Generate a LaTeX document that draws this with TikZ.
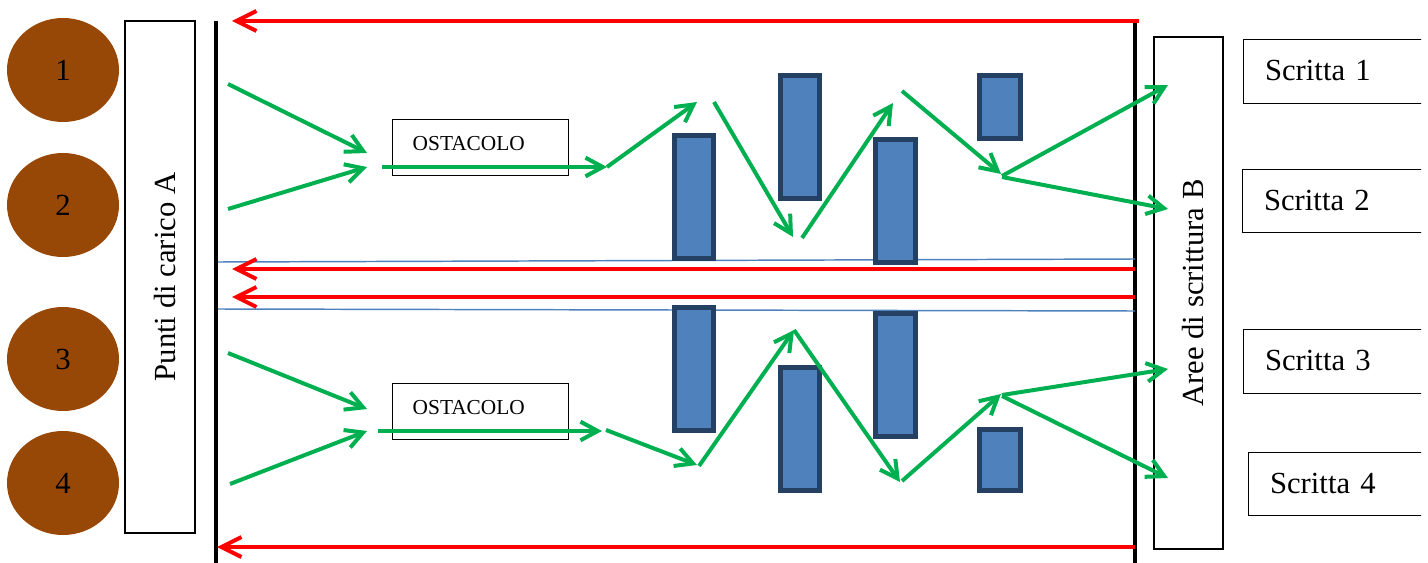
\documentclass[tikz,border=0pt]{standalone}
\usepackage{fontspec}
\setmainfont{Liberation Serif}
\usetikzlibrary{arrows.meta,shapes.geometric,fit}

\definecolor{ballbrown}{RGB}{151,72,7}
\definecolor{flowgreen}{RGB}{0,176,80}
\definecolor{barfill}{RGB}{79,129,189}
\definecolor{barline}{RGB}{36,64,98}
\definecolor{guideblue}{RGB}{79,129,189}

\tikzset{
  ball/.style={ellipse, fill=ballbrown, minimum width=84pt, minimum height=78pt,
    inner sep=0pt, font=\fontsize{23pt}{27pt}\selectfont},
  sidebox/.style={draw, line width=1.1pt, rotate=90, minimum width=384pt,
    inner sep=0pt, text depth=0pt, font=\fontsize{23pt}{27pt}\selectfont},
  labelbox/.style={draw, line width=1.1pt, anchor=north west, inner xsep=16pt,
    text width=110pt, align=left, text height=16pt, text depth=2.25pt,
    font=\fontsize{23pt}{27pt}\selectfont},
  obstacle/.style={draw, line width=1.1pt, anchor=north west, inner xsep=15pt,
    minimum height=42pt, text width=102pt, align=left, text height=10.5pt,
    text depth=6pt, font=\fontsize{16pt}{19pt}\selectfont},
  bar/.style={draw=barline, fill=barfill, line width=3.75pt, inner sep=0pt},
  wall/.style={line width=3pt, black},
  guide/.style={line width=1.1pt, guideblue},
  back/.style={line width=3pt, red, -{Straight Barb[length=15pt,width=15pt]}},
  flow/.style={line width=3pt, flowgreen, -{Straight Barb[length=13pt,width=14pt]}},
}

\begin{document}
\begin{tikzpicture}[x=0.75pt, y=-0.75pt]
\useasboundingbox (0,0) rectangle (1428,563);

% loading points
\node[ball] (c1) at (63,70) {1};
\node[ball] (c2) at (63,205) {2};
\node[ball] (c3) at (63,359) {3};
\node[ball] (c4) at (63,483) {4};

% side panels
\node[sidebox, minimum height=52.5pt, text height=22.5pt] (pa) at (160,277) {Punti di carico A};
\node[sidebox, minimum height=51.75pt, text height=21.75pt] (pb) at (1188.5,293) {Aree di scrittura B};

% output labels
\begin{scope}
  \clip (0,0) rectangle (1421,563);
  \node[labelbox, minimum height=48pt] (s1) at (1243,39) {Scritta 1};
  \node[labelbox, minimum height=47.25pt] (s2) at (1242,169) {Scritta 2};
  \node[labelbox, minimum height=48pt] (s3) at (1243,329) {Scritta 3};
  \node[labelbox, minimum height=47.25pt] (s4) at (1248,452) {Scritta 4};
\end{scope}

% walls
\coordinate (wl1) at (216,21);
\coordinate (wl2) at (216,563);
\coordinate (wr1) at (1135,21);
\coordinate (wr2) at (1135,563);
\draw[wall] (wl1) -- (wl2);
\draw[wall] (wr1) -- (wr2);

% lane separators
\coordinate (bl1) at (218,262); \coordinate (br1) at (1135,259);
\coordinate (bl2) at (218,309); \coordinate (br2) at (1135,311);
\draw[guide] (bl1) -- (br1);
\draw[guide] (bl2) -- (br2);

% obstacles
\node[obstacle] (ob1) at (392,119) {OSTACOLO};
\node[obstacle] (ob2) at (392,383) {OSTACOLO};

\node[bar, fit={(674.5,135.5) (713.5,258.5)}] (o1) {};
\node[bar, fit={(780.5,75.5) (819.5,198.5)}] (o2) {};
\node[bar, fit={(875.5,139.5) (915.5,262.5)}] (o3) {};
\node[bar, fit={(979.5,75.5) (1020.5,138.5)}] (o4) {};
\node[bar, fit={(674.5,307.5) (713.5,430.5)}] (o5) {};
\node[bar, fit={(780.5,367.5) (819.5,490.5)}] (o6) {};
\node[bar, fit={(875.5,313.5) (915.5,436.5)}] (o7) {};
\node[bar, fit={(979.5,429.5) (1020.5,490.5)}] (o8) {};

% return arrows
\coordinate (rt1) at (1139,21);  \coordinate (rt2) at (232,21);
\coordinate (ra1) at (1135,269); \coordinate (ra2) at (232,269);
\coordinate (rb1) at (1135,297); \coordinate (rb2) at (232,297);
\coordinate (rc1) at (1135,547); \coordinate (rc2) at (217,547);
\draw[back] (rt1) -- (rt2);
\draw[back] (ra1) -- (ra2);
\draw[back] (rb1) -- (rb2);
\draw[back] (rc1) -- (rc2);

% upper lane path
\coordinate (u1) at (228,84);   \coordinate (u1e) at (367,153);
\coordinate (u2) at (228,209);  \coordinate (u2e) at (367,167);
\coordinate (u3) at (382,167);  \coordinate (u3e) at (607,167);
\coordinate (u4) at (607,167);  \coordinate (u4e) at (697,102);
\coordinate (u5) at (714,102);  \coordinate (u5e) at (793,237);
\coordinate (u6) at (802,238);  \coordinate (u6e) at (893,103);
\coordinate (u7) at (902,91);   \coordinate (u7e) at (1001,174);
\coordinate (u8) at (1002,176); \coordinate (u8e) at (1168,85);
\coordinate (u9) at (1002,177); \coordinate (u9e) at (1168,209);
\foreach \k in {1,...,9} \draw[flow] (u\k) -- (u\k e);

% lower lane path
\coordinate (d1) at (228,353);  \coordinate (d1e) at (367,409);
\coordinate (d2) at (230,484);  \coordinate (d2e) at (367,431);
\coordinate (d3) at (378,431);  \coordinate (d3e) at (602,431);
\coordinate (d4) at (606,430);  \coordinate (d4e) at (697,465);
\coordinate (d5) at (699,466);  \coordinate (d5e) at (794,330);
\coordinate (d6) at (794,330);  \coordinate (d6e) at (900,482);
\coordinate (d7) at (902,481);  \coordinate (d7e) at (1001,394);
\coordinate (d8) at (1002,395); \coordinate (d8e) at (1168,369);
\coordinate (d9) at (1002,396); \coordinate (d9e) at (1168,478);
\foreach \k in {1,...,9} \draw[flow] (d\k) -- (d\k e);
\end{tikzpicture}
\end{document}
